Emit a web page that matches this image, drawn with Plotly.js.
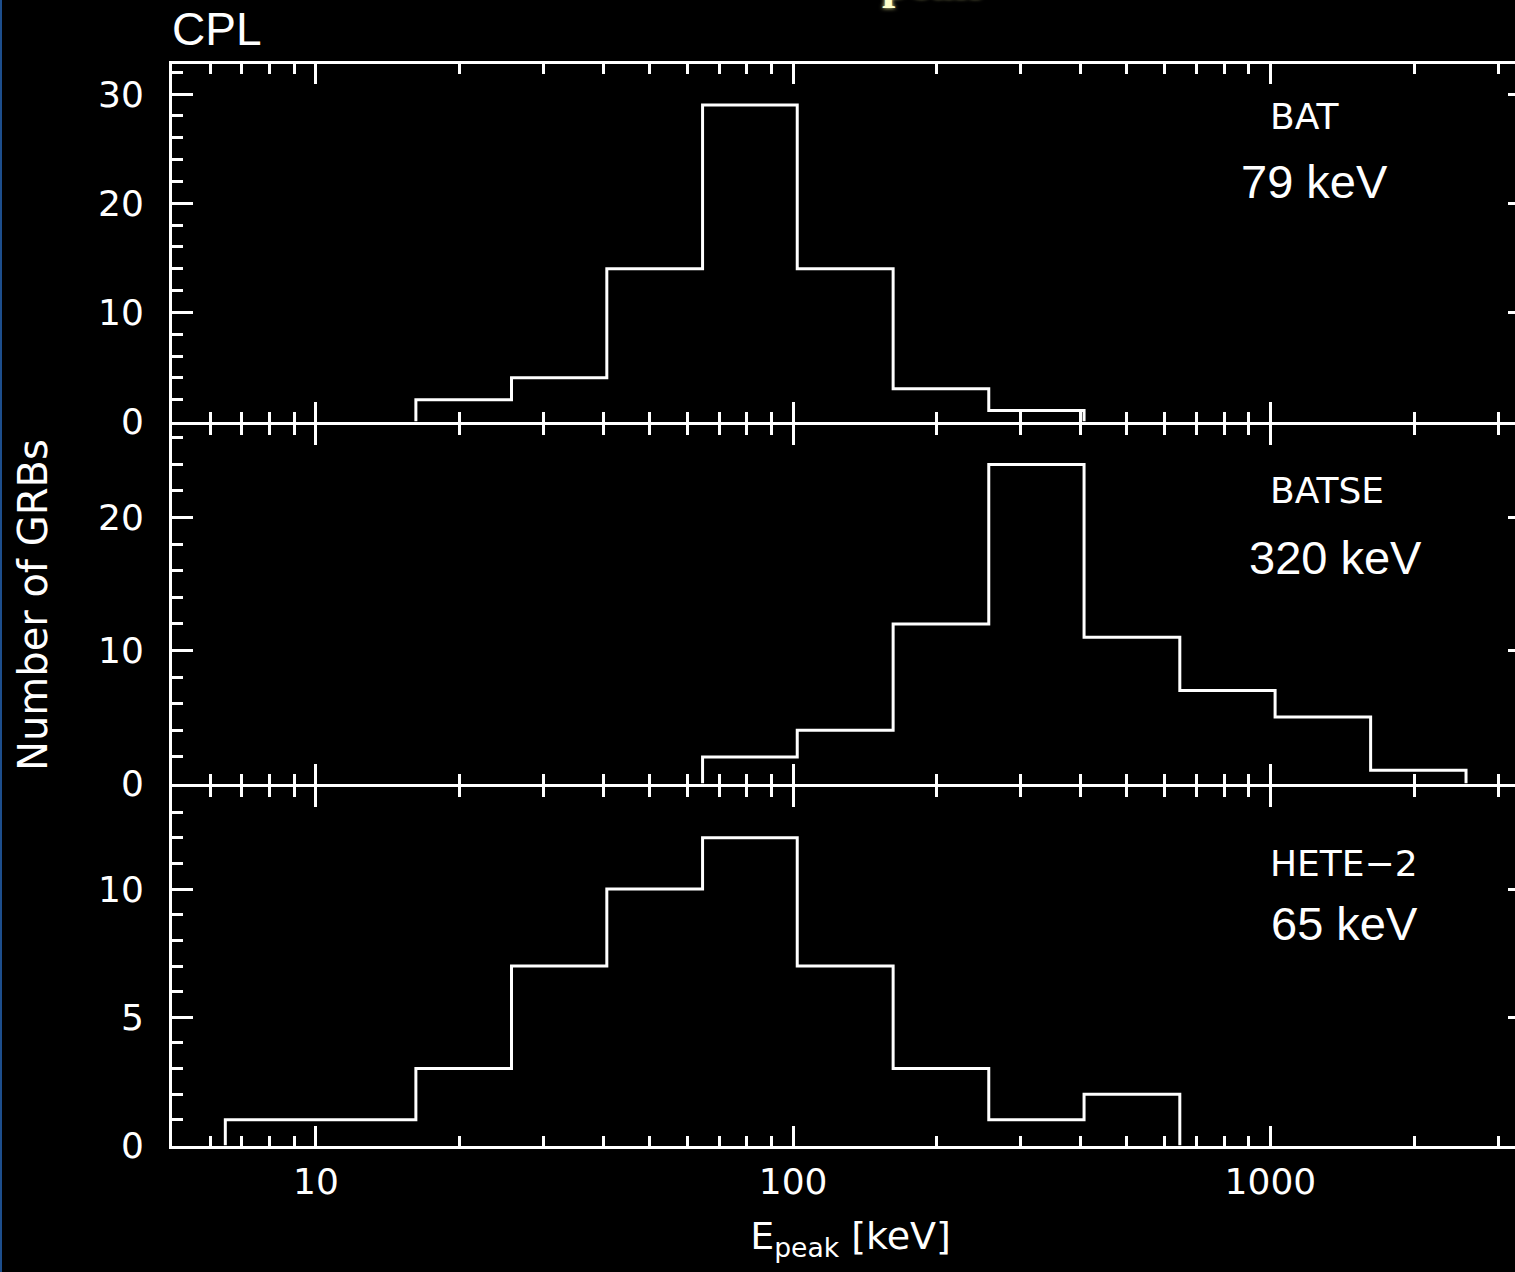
<!DOCTYPE html>
<html>
<head>
<meta charset="utf-8">
<script src="https://cdn.plot.ly/plotly-3.0.1.min.js"></script>
<style>
html, body { margin:0; padding:0; background:#000; overflow:hidden; width:1515px; height:1272px; }
#chart { width:1535px; height:1272px; }
#edge { position:absolute; left:0; top:0; width:2px; height:1272px; background:#1d4e8c; z-index:5; }
</style>
</head>
<body>
<div id="chart"></div>
<div id="edge"></div>
<script>
// ---- data (bin edges in keV, counts per bin) ----
const batEdges   = [16.2, 25.7, 40.7, 64.6, 102, 162, 257, 407];
const batCounts  = [2, 4, 14, 29, 14, 3, 1];

const batseEdges  = [64.6, 102, 162, 257, 407, 646, 1023, 1622, 2570];
const batseCounts = [2, 4, 12, 24, 11, 7, 5, 1];

const heteEdges  = [6.46, 10.2, 16.2, 25.7, 40.7, 64.6, 102, 162, 257, 407, 646];
const heteCounts = [1, 1, 3, 7, 10, 12, 7, 3, 1, 2];

const panelNames  = ['BAT', 'BATSE', 'HETE\u22122'];
const panelPeaks  = ['79 keV', '320 keV', '65 keV'];

const xMajorVals  = [10, 100, 1000];
const xMajorText  = ['10', '100', '1000'];
const xMinorVals  = [6, 7, 8, 9, 20, 30, 40, 50, 60, 70, 80, 90,
                     200, 300, 400, 500, 600, 700, 800, 900, 2000, 3000];

// ---- build step outlines from the arrays ----
function stepXY(edges, counts) {
  const x = [edges[0]], y = [0];
  for (let i = 0; i < counts.length; i++) { x.push(edges[i]); y.push(counts[i]); }
  x.push(edges[edges.length - 1]); y.push(0);
  return {x, y};
}

const lineStyle = {color:'#ffffff', width:3, shape:'hv'};
const bat = stepXY(batEdges, batCounts);
const batse = stepXY(batseEdges, batseCounts);
const hete = stepXY(heteEdges, heteCounts);

const traces = [
  {x: bat.x, y: bat.y, xaxis:'x3', yaxis:'y3', mode:'lines', line:lineStyle, name:'BAT', hoverinfo:'x+y'},
  {x: batse.x, y: batse.y, xaxis:'x2', yaxis:'y2', mode:'lines', line:lineStyle, name:'BATSE', hoverinfo:'x+y'},
  {x: hete.x, y: hete.y, xaxis:'x', yaxis:'y', mode:'lines', line:lineStyle, name:'HETE-2', hoverinfo:'x+y'}
];

// ---- layout ----
const W = 1535, H = 1272;
const mL = 172, mR = 6, mT = 63, mB = 126;
const pw = W - mL - mR, ph = H - mT - mB;
const px = v => (v - mL) / pw;
const py = v => (H - mB - v) / ph;
const dom = (topPx, botPx) => [Math.max(0, py(botPx)), Math.min(1, py(topPx))];

const hershey = 'DejaVu Sans';
const tickFont = {family: hershey, size: 36, color: '#ffffff'};
const xRange = [0.6985, 3.5419];

function xAxis(anchor, labels) {
  return {
    type:'log', range:xRange, anchor:anchor,
    showline:true, linecolor:'#ffffff', linewidth:3, mirror:'allticks',
    ticks:'inside', ticklen:20, tickwidth:3, tickcolor:'#ffffff',
    tickmode:'array', tickvals:xMajorVals, ticktext:xMajorText,
    showticklabels:labels, tickfont:tickFont, ticklabelstandoff:2,
    minor:{ticks:'inside', ticklen:10, tickwidth:3, tickcolor:'#ffffff',
           tickmode:'array', tickvals:xMinorVals, showgrid:false},
    showgrid:false, zeroline:false
  };
}
function yAxis(domain, range, dtick, minorDtick, anchor) {
  return {
    domain:domain, range:range, anchor:anchor,
    showline:true, linecolor:'#ffffff', linewidth:3, mirror:'allticks',
    ticks:'inside', ticklen:21, tickwidth:3, tickcolor:'#ffffff',
    tickmode:'linear', tick0:0, dtick:dtick,
    tickfont:tickFont, ticklabelstandoff:18,
    minor:{ticks:'inside', ticklen:11, tickwidth:3, tickcolor:'#ffffff',
           tick0:0, dtick:minorDtick, showgrid:false},
    showgrid:false, zeroline:false
  };
}

const annFont = {family: hershey, size: 36, color:'#ffffff'};
const arialFont = {family: 'Liberation Sans, Arial', size: 47, color:'#ffffff'};

function ann(text, xpx, ypx, font, extra) {
  return Object.assign({text:text, xref:'paper', yref:'paper', x:px(xpx), y:py(ypx),
    xanchor:'left', yanchor:'middle', showarrow:false, font:font}, extra || {});
}

const annotations = [
  ann('CPL', 170, 29, {family:'Liberation Sans, Arial', size:46, color:'#ffffff'}),
  ann(panelNames[0], 1268, 117, annFont),
  ann(panelPeaks[0], 1239, 182, arialFont),
  ann(panelNames[1], 1268, 490, annFont),
  ann(panelPeaks[1], 1247, 557, arialFont),
  ann(panelNames[2], 1268, 863, annFont),
  ann(panelPeaks[2], 1269, 923, arialFont),
  ann('Number of GRBs', 33, 605, {family: hershey, size: 40, color:'#ffffff'},
      {xanchor:'center', textangle:-90}),
  ann('peak', 880, 10, {family:'Liberation Serif', size:48, weight:700, color:'#ffffcc',
      shadow:'0px 0px 4px #ffffaa'}, {yanchor:'bottom'})
];

const layout = {
  width: W, height: H,
  margin: {l:mL, r:mR, t:mT, b:mB, pad:0},
  paper_bgcolor:'#000000', plot_bgcolor:'#000000',
  showlegend:false,
  font:{family: hershey, color:'#ffffff'},
  xaxis: Object.assign(xAxis('y', true), {
    title:{text:'E<sub>peak</sub> [keV]', font:{family: hershey, size:38, color:'#ffffff'}, standoff:22}
  }),
  xaxis2: xAxis('y2', false),
  xaxis3: xAxis('y3', false),
  yaxis:  yAxis(dom(786.5, 1145.5), [0, 14], 5, 1, 'x'),
  yaxis2: yAxis(dom(424.5, 783.5), [0, 27], 10, 2, 'x2'),
  yaxis3: yAxis(dom(63.5, 421.5), [0, 32.8], 10, 2, 'x3'),
  annotations: annotations
};

Plotly.newPlot('chart', traces, layout, {displayModeBar:false, staticPlot:true});
</script>
</body>
</html>
